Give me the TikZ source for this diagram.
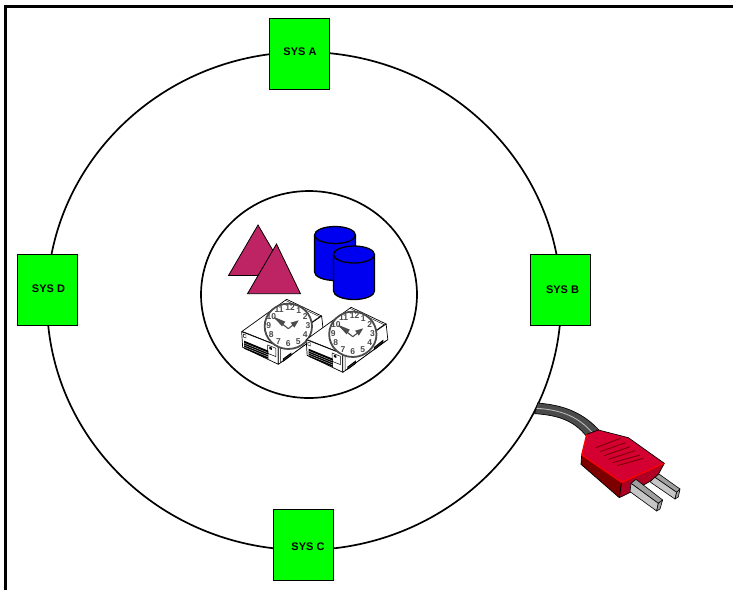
\documentclass[tikz,border=0pt]{standalone}
\usepackage{fontspec}
\setmainfont{Liberation Sans}
\usetikzlibrary{shapes.geometric,calc}
\definecolor{sysgreen}{RGB}{0,255,0}
\definecolor{plum}{RGB}{190,35,100}
\definecolor{dbblue}{RGB}{0,0,240}
\definecolor{clockgray}{RGB}{75,75,75}
\definecolor{plugred}{RGB}{212,0,50}
\definecolor{plugdark}{RGB}{125,0,0}
\definecolor{plugfront}{RGB}{175,0,35}
\tikzset{
  sysbox/.style={draw=black,line width=0.9pt,fill=sysgreen,minimum width=60pt,minimum height=71pt,inner sep=0pt},
  syslabel/.style={inner sep=0pt,font=\fontsize{11}{12}\selectfont\bfseries},
  ring/.style={draw=black,ellipse,line width=1.7pt,inner sep=0pt},
  tri/.style={draw=black,fill=plum,line width=0.8pt,line join=miter},
  cyl/.style={draw=black,fill=dbblue,line width=1.3pt},
  srv/.style={draw=black,fill=white,line width=0.7pt,line join=round},
  clocknum/.style={text=clockgray,font=\fontsize{8.5}{9}\selectfont\bfseries,inner sep=0pt},
  prongtop/.style={draw=black,fill=gray!75,line width=0.6pt,line join=round},
  prongside/.style={draw=black,fill=gray!45,line width=0.6pt,line join=round},
  plugline/.style={draw=black,line width=0.7pt,line join=round},
  pics/timeserver/.style={code={
    \begin{scope}[x=0.3333pt,y=-0.3333pt]
      % server case
      \path[srv] (65,365) -- (200,268) -- (305,318) -- (175,408) -- cycle;
      \path[srv] (65,365) -- (175,408) -- (175,463) -- (68,412) -- cycle;
      \path[srv] (175,408) -- (305,318) -- (310,365) -- (175,463) -- cycle;
      \draw[line width=0.4pt] (196,271) -- (299,320) -- (172,406) -- (70,365);
      \draw[line width=0.4pt] (182,412) -- (182,458) -- (304,368);
      \fill[black] (72,392) -- (145,422) -- (145,447) -- (72,416) -- cycle;
      \draw[white,line width=0.25pt] (72,399) -- (145,429) (72,405) -- (145,435) (72,411) -- (145,441);
      \draw[line width=0.5pt] (143,405) -- (168,415) -- (168,440) -- (143,430) -- cycle;
      \fill[black] (148,410) -- (156,413) -- (156,420) -- (148,417) -- cycle;
      \draw[line width=1pt,fill=black!60] (190,447) -- (213,430) -- (213,436) -- (190,453) -- cycle;
      \draw[line width=1pt,fill=black!60] (270,388) -- (295,368) -- (295,374) -- (270,394) -- cycle;
      \draw[line width=0.4pt] (70,372) -- (78,375) -- (78,384) -- (70,381) -- cycle;
      % clock face
      \path[fill=white,draw=clockgray,line width=1.8pt] (205,349) circle[x radius=71,y radius=68];
      \foreach \hr/\ang in {12/85,1/58,2/30,3/0,4/-30,5/-60,6/-90,7/-120,8/-150,9/180,10/150,11/118}
        \node[clocknum] (n\hr) at ($(205,347)+(\ang:59 and -54)$) {\hr};
      % hands
      \draw[clockgray,line width=1.1pt] (205,356) -- (165,325);
      \fill[clockgray] (160,320) -- (196,335) -- (186,349) -- cycle;
      \draw[clockgray,line width=1.1pt] (205,356) -- (232,335);
      \fill[clockgray] (236,331) -- (212,338) -- (223,353) -- cycle;
    \end{scope}
  }}
}
\begin{document}
\begin{tikzpicture}[x=1pt,y=-1pt]
\useasboundingbox (0,0) rectangle (733,590);
\fill[white] (0,0) rectangle (733,590);
\draw[line width=2.8pt,line cap=butt,line join=miter] (5.6,590) -- (5.6,6.2) -- (733,6.2);

% rings
\node[ring,minimum width=514pt,minimum height=498pt] (outer) at (304,301) {};
\node[ring,minimum width=216pt,minimum height=207pt] (inner) at (309,294.5) {};

% systems
\node[sysbox] (sysa) at (299.5,53.5) {};
\node[sysbox] (sysb) at (560,289.5) {};
\node[sysbox] (sysc) at (303.7,544.5) {};
\node[sysbox] (sysd) at (47,289.5) {};
\node[syslabel] (laba) at ($(sysa)+(0.5,-1.5)$) {SYS A};
\node[syslabel] (labb) at ($(sysb)+(2.5,0.5)$) {SYS B};
\node[syslabel] (labc) at ($(sysc)+(4.3,2.5)$) {SYS C};
\node[syslabel] (labd) at ($(sysd)+(1.5,-0.5)$) {SYS D};

% triangles
\path[tri] (258,225) -- (287.5,275.5) -- (228.5,275.5) -- cycle;
\path[tri] (276.5,244) -- (300.5,293.7) -- (247.5,293.7) -- cycle;

% cylinders
\path[cyl] (314.5,235) -- (314.5,272) arc[start angle=180,end angle=0,x radius=20.5,y radius=8.5] -- (355.5,235) arc[start angle=0,end angle=-180,x radius=20.5,y radius=8.5] -- cycle;
\path[cyl] (314.5,235) arc[start angle=180,end angle=0,x radius=20.5,y radius=8.5];
\path[cyl] (333.5,254.5) -- (333.5,291) arc[start angle=180,end angle=0,x radius=20.5,y radius=8.5] -- (374.5,254.5) arc[start angle=0,end angle=-180,x radius=20.5,y radius=8.5] -- cycle;
\path[cyl] (333.5,254.5) arc[start angle=180,end angle=0,x radius=20.5,y radius=8.5];

% time servers
\pic at (220,210) {timeserver};
\pic at (284.5,218) {timeserver};

% plug
\begin{scope}[shift={(530,395)},x=0.3333pt,y=-0.3333pt]
  \path[fill=clockgray,draw=black,line width=0.7pt] (23,24) .. controls (90,30) and (150,45) .. (207,105) -- (168,122) .. controls (130,75) and (80,60) .. (14,56) -- cycle;
  \draw[gray!55,line width=0.9pt] (20,40) .. controls (85,44) and (140,60) .. (186,112);
  % prongs
  \path[prongtop] (365,240) -- (377,230) -- (450,282) -- (440,292) -- cycle;
  \path[prongside] (365,240) -- (440,292) -- (435,312) -- (362,262) -- cycle;
  \path[prongtop] (440,292) -- (450,282) -- (445,306) -- (435,312) -- cycle;
  % body
  \path[plugline,fill=plugdark] (155,180) -- (275,262) -- (268,308) -- (153,208) -- cycle;
  \path[plugline,fill=plugfront] (275,262) -- (403,205) -- (385,238) -- (362,258) -- (305,290) -- (268,308) -- cycle;
  \path[fill=plugred] (170,118) -- (205,105) -- (295,128) -- (403,205) -- (275,262) -- (155,180) -- cycle;
  \draw[red,line width=1.2pt,line join=round] (170,118) -- (155,180) -- (275,262) -- (403,205);
  \draw[black,line width=0.7pt,line join=round] (170,118) -- (205,105) -- (295,128) -- (403,205);
  \foreach \xa/\ya/\xb/\yb in {197/158/272/130,210/170/287/143,222/182/300/155,235/193/315/167,248/203/330/180,262/212/340/190}
    \draw[plugdark,line width=0.9pt] (\xa,\ya) -- (\xb,\yb);
  % front prong
  \path[prongtop] (303,265) -- (318,253) -- (398,315) -- (385,325) -- cycle;
  \path[prongside] (303,265) -- (385,325) -- (380,348) -- (300,290) -- cycle;
  \path[prongtop] (385,325) -- (398,315) -- (390,342) -- (380,348) -- cycle;
\end{scope}
\end{tikzpicture}
\end{document}
